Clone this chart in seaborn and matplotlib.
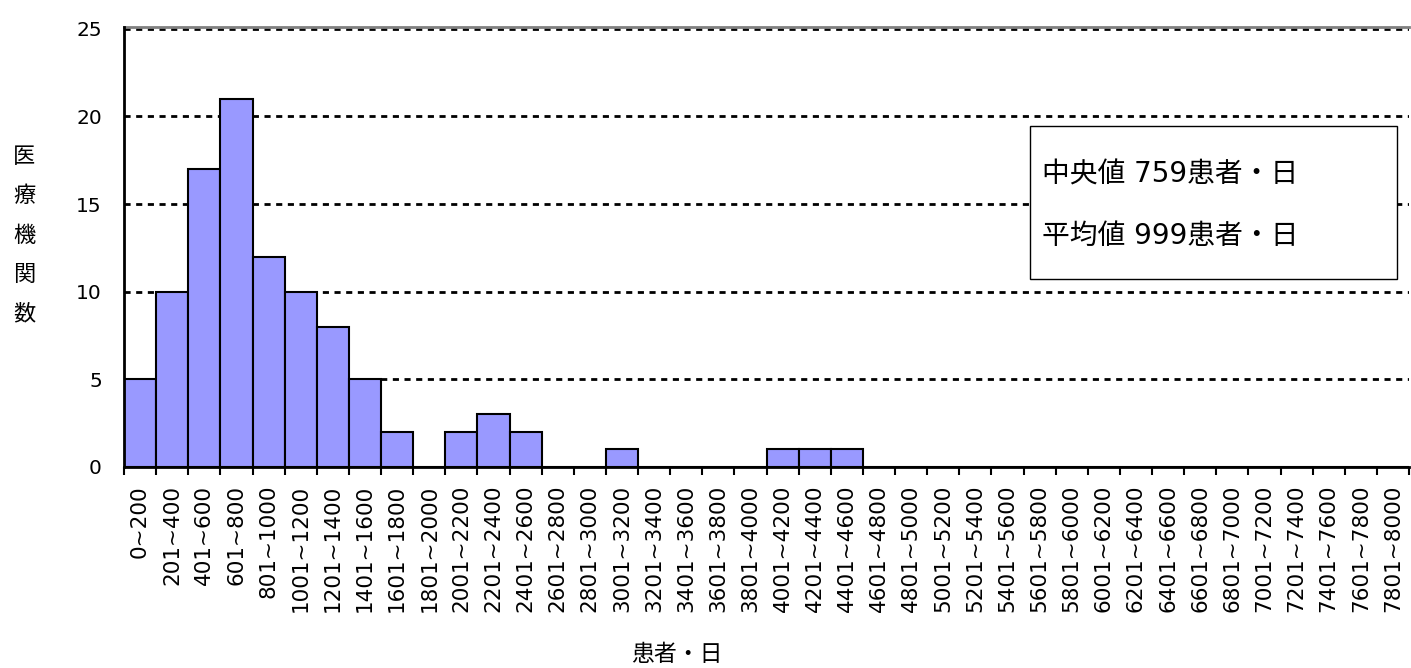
import numpy as np
import pandas as pd
import matplotlib
matplotlib.use("Agg")
import matplotlib.pyplot as plt
import seaborn as sns
from matplotlib.ticker import FixedLocator
from matplotlib.patches import Rectangle

# bins of 200 patient-days, 0~200 ... 7801~8000
lower = [0] + [i * 200 + 1 for i in range(1, 40)]
upper = [(i + 1) * 200 for i in range(40)]
categories = ["%d~%d" % (lo, hi) for lo, hi in zip(lower, upper)]
counts = [5, 10, 17, 21, 12, 10, 8, 5, 2, 0,
          2, 3, 2, 0, 0, 1, 0, 0, 0, 0,
          1, 1, 1, 0, 0, 0, 0, 0, 0, 0,
          0, 0, 0, 0, 0, 0, 0, 0, 0, 0]
yticks = [0, 5, 10, 15, 20, 25]
box_lines = ["中央値 759患者・日", "平均値 999患者・日"]
ylabel = "医療機関数"
xlabel = "患者・日"

sns.set_theme(style="white")
plt.rcParams['font.family'] = ['DejaVu Sans', 'Noto Sans CJK JP']
plt.rcParams['text.color'] = "black"
plt.rcParams['xtick.color'] = "black"
plt.rcParams['ytick.color'] = "black"
jp = ['Noto Sans CJK JP', 'DejaVu Sans']
mixed = ['DejaVu Sans', 'Noto Sans CJK JP']

df = pd.DataFrame({"bin": categories, "count": counts})

fig = plt.figure(figsize=(14.11, 6.68), dpi=100)
ax = fig.add_axes([0.0879, 0.301, 0.9107, 0.659])

sns.barplot(data=df, x="bin", y="count", color="#9999FF", saturation=1,
            edgecolor="black", linewidth=1.5, width=1.0, ax=ax, zorder=3)

ax.set_xlim(-0.5, len(categories) - 0.5)
ax.set_ylim(0, 25.12)
ax.set_yticks(yticks)
ax.set_yticklabels([str(v) for v in yticks], fontsize=14.5)
ax.grid(False)
for v in yticks[1:]:
    ax.axhline(v, color="black", lw=2, ls=(0, (2.2, 2.0)), zorder=1)

ax.set_xticks(np.arange(len(categories)))
ax.set_xticklabels(categories, rotation=90, fontsize=15.5, va="top")
ax.xaxis.set_minor_locator(FixedLocator(np.arange(len(categories) + 1) - 0.5))
ax.tick_params(axis="x", which="major", length=0, pad=13)
ax.tick_params(axis="x", which="minor", length=6, width=1.5,
               color="black", direction="out", bottom=True)
ax.tick_params(axis="y", length=0, pad=16)

for side in ["left", "bottom"]:
    ax.spines[side].set_color("black")
    ax.spines[side].set_linewidth(2)
    ax.spines[side].set_zorder(4)
ax.spines["top"].set_color("#808080")
ax.spines["top"].set_linewidth(2)
ax.spines["right"].set_visible(False)

ax.set_xlabel("")
ax.set_ylabel("")
fig.text(0.017, 0.648, "\n".join(ylabel), family=jp, fontsize=16,
         ha="center", va="center", linespacing=1.9)
fig.text(0.480, 0.02, xlabel, family=jp, fontsize=16.5, ha="center", va="center")

# summary box
ax.add_patch(Rectangle((0.705, 0.428), 0.2857, 0.3465, transform=ax.transAxes,
                       facecolor="white", edgecolor="black", lw=1, zorder=6))
ax.text(0.714, 0.665, box_lines[0], transform=ax.transAxes, family=mixed,
        fontsize=20, ha="left", va="center", zorder=7)
ax.text(0.714, 0.524, box_lines[1], transform=ax.transAxes, family=mixed,
        fontsize=20, ha="left", va="center", zorder=7)

fig.savefig("out.png", dpi=100)
